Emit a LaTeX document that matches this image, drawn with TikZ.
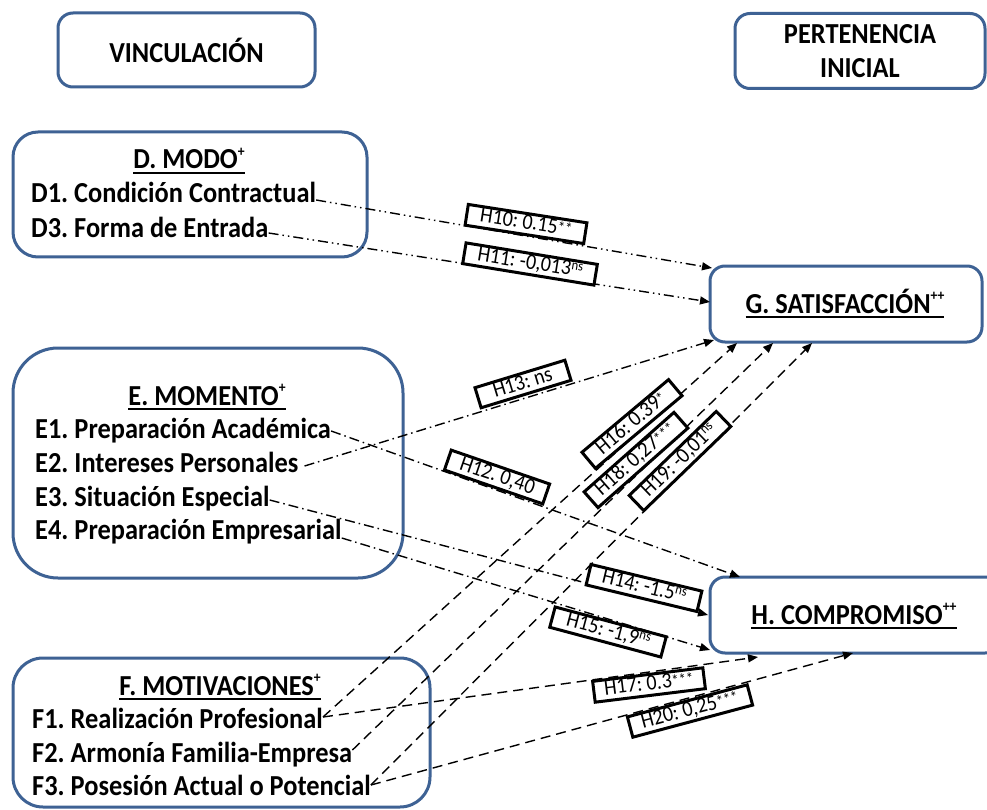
\documentclass[tikz,border=0pt]{standalone}
\usepackage{fontspec}
\setmainfont{Carlito}[FakeStretch=0.91]
\usetikzlibrary{arrows.meta}
\definecolor{boxblue}{HTML}{3E6294}
% small raised marks after headers and coefficients
\newcommand\hsup[1]{\raisebox{0.42em}{\fontsize{15}{15}\selectfont #1}}
\newcommand\lsup[1]{\raisebox{0.3em}{\fontsize{14}{14}\selectfont #1}}
\newcommand\lstar[1]{\raisebox{0.05em}{\fontsize{16}{16}\selectfont #1}}
% heavy underline for the panel headings
\newcommand\ulhead[1]{\setbox0\hbox{#1}\rlap{\rule[-5pt]{\wd0}{2pt}}\box0}
\begin{document}
\frenchspacing
\begin{tikzpicture}[x=1pt,y=-1pt,
  panel/.style={draw=boxblue,line width=3pt,fill=white,rounded corners=#1,inner sep=0pt},
  bigtext/.style={font=\fontsize{29}{34}\selectfont\bfseries,inner sep=0pt},
  item/.style={bigtext,anchor=base west},
  head/.style={bigtext,anchor=base},
  coef/.style={draw=black,line width=3pt,fill=white,inner xsep=2pt,inner ysep=1pt,
    minimum height=21pt,text height=14pt,text depth=4pt,
    font=\fontsize{22}{22}\selectfont},
  link/.style={line width=1.4pt,-{Triangle[length=10pt,width=8pt]}},
  dashdotdot/.style={link,dash pattern=on 10pt off 4pt on 1.5pt off 4pt on 1.5pt off 4pt},
  dashdot/.style={link,dash pattern=on 10pt off 4pt on 1.5pt off 4pt},
  longdash/.style={link,dash pattern=on 10pt off 6pt}]
\clip (0,0) rectangle (987,810);
\fill[white] (0,0) rectangle (987,810);

% title panels
\node[panel=15pt,minimum width=257pt,minimum height=74pt,bigtext] (vinc) at (186.5,50) {VINCULACIÓN};
\node[panel=15pt,minimum width=250pt,minimum height=75pt,bigtext,align=center] (pert) at (860,51) {PERTENENCIA\\INICIAL};

% antecedent panels
\node[panel=25pt,minimum width=354pt,minimum height=125pt] (dbox) at (190,194.5) {};
\node[panel=45pt,minimum width=390pt,minimum height=230pt] (ebox) at (208,463) {};
\node[panel=30pt,minimum width=417pt,minimum height=149pt] (fbox) at (221.5,732.5) {};

% outcome panels
\node[panel=15pt,minimum width=272pt,minimum height=76pt] (gbox) at (846,304) {};
\node[panel=15pt,minimum width=290pt,minimum height=76pt] (hbox) at (855,615) {};

% headings
\node[head] (dh) at (189,169) {\ulhead{D. MODO\hsup{+}}};
\node[head] (eh) at (207,405) {\ulhead{E. MOMENTO\hsup{+}}};
\node[head] (fh) at (220,695) {\ulhead{F. MOTIVACIONES\hsup{+}}};
\node[head] (gh) at (845,313) {\ulhead{G. SATISFACCIÓN\hsup{++}}};
\node[head] (hh) at (854,624) {\ulhead{H. COMPROMISO\hsup{++}}};

% items
\node[item] (d1) at (31,203) {D1. Condición Contractual};
\node[item] (d3) at (31,237) {D3. Forma de Entrada};
\node[item] (e1) at (35,438) {E1. Preparación Académica};
\node[item] (e2) at (35,472) {E2. Intereses Personales};
\node[item] (e3) at (35,506) {E3. Situación Especial};
\node[item] (e4) at (35,539) {E4. Preparación Empresarial};
\node[item] (f1) at (32,728) {F1. Realización Profesional};
\node[item] (f2) at (32,762) {F2. Armonía Familia-Empresa};
\node[item] (f3) at (32,795) {F3. Posesión Actual o Potencial};

% arrow targets on the outcome panels
\coordinate (g10) at (712,268);
\coordinate (g11) at (710,302);
\coordinate (g13) at (714,340);
\coordinate (g16) at (737,343);
\coordinate (g18) at (773,343);
\coordinate (g19) at (812,343);
\coordinate (h12) at (740,577);
\coordinate (h14) at (708,615);
\coordinate (h15) at (710,650);
\coordinate (h17) at (758,657);
\coordinate (h20) at (853,653);

% paths
\draw[dashdotdot] ([yshift=3pt]d1.base east) -- (g10);
\draw[dashdotdot] ([yshift=4pt]d3.base east) -- (g11);
\draw[dashdot] ([yshift=7pt]e1.base east) -- (h12);
\draw[dashdot] ([xshift=6pt,yshift=6pt]e2.base east) -- (g13);
\draw[dashdot] ([yshift=6pt]e3.base east) -- (h14);
\draw[dashdot] ([yshift=1pt]e4.base east) -- (h15);
\draw[longdash] ([yshift=11pt]f1.base east) -- (g16);
\draw[longdash] ([yshift=11pt]f1.base east) -- (h17);
\draw[longdash] ([yshift=12pt]f2.base east) -- (g18);
\draw[longdash] ([yshift=10pt]f3.base east) -- (g19);
\draw[longdash] ([yshift=10pt]f3.base east) -- (h20);

% coefficients
\node[coef,minimum width=120pt,rotate=-8.8] (c10) at (526,224) {H10: 0.15\lstar{**}};
\node[coef,minimum width=133pt,rotate=-9.3] (c11) at (530,264) {H11: -0,013\lsup{ns}};
\node[coef,minimum width=94pt,rotate=17] (c13) at (523,384) {H13: ns};
\node[coef,minimum width=104pt,rotate=-19] (c12) at (497,477) {H12. 0,40};
\node[coef,minimum width=113pt,rotate=40] (c16) at (632,424) {H16: 0.39\lstar{*}};
\node[coef,minimum width=120pt,rotate=41.5] (c18) at (636,460) {H18: 0,27\lstar{***}};
\node[coef,minimum width=121pt,rotate=44] (c19) at (680,461) {H19: -0,01\lsup{ns}};
\node[coef,minimum width=114pt,rotate=-13.5] (c14) at (644,588) {H14: -1.5\lsup{ns}};
\node[coef,minimum width=115pt,rotate=-15] (c15) at (608,632) {H15: -1,9\lsup{ns}};
\node[coef,minimum width=111pt,rotate=7] (c17) at (649,685) {H17: 0.3\lstar{***}};
\node[coef,minimum width=124pt,rotate=15] (c20) at (690,711) {H20: 0,25\lstar{***}};
\end{tikzpicture}
\end{document}
